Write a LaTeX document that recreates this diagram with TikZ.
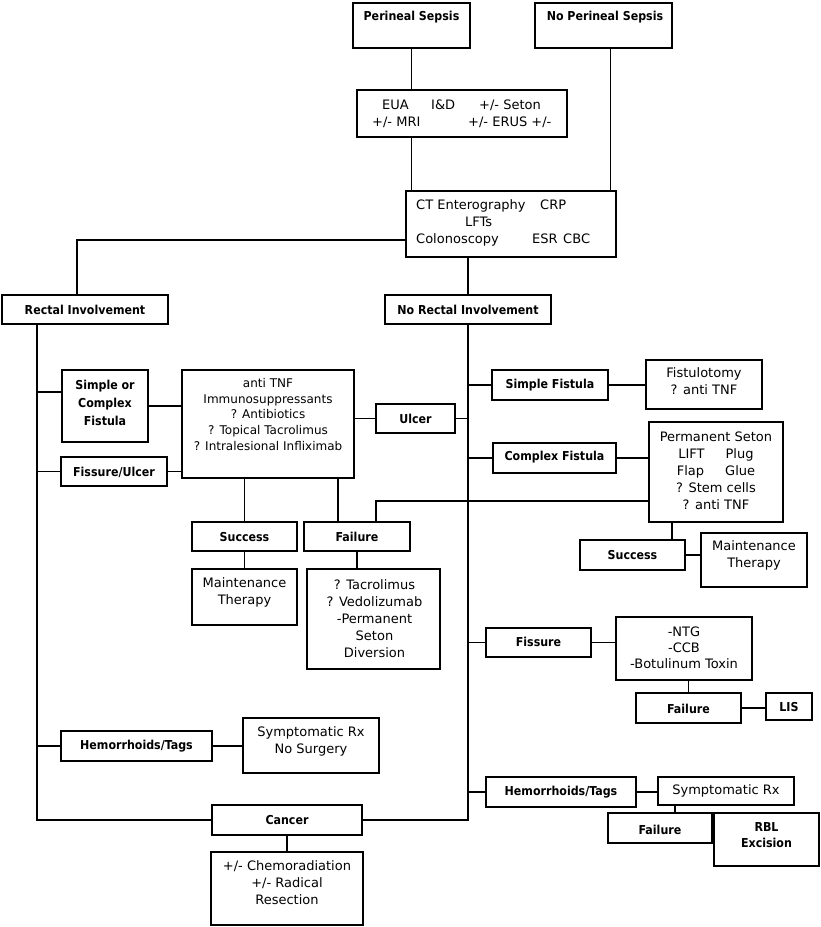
\documentclass[tikz,border=0pt]{standalone}
\usepackage{fontspec}
\setmainfont{DejaVu Sans}
\newfontfamily\headfont{DejaVu Sans Condensed Bold}
\usetikzlibrary{fit}

\begin{document}
\begin{tikzpicture}[x=1pt, y=-1pt]
                \tikzset{Box/.style = {draw, line width=1.3pt, inner sep=0pt},
                         Head/.style = {font=\headfont\fontsize{12.3}{18}\selectfont, align=center},
                         Text/.style = {font=\fontsize{13}{17}\selectfont, align=center},
                         Small/.style = {font=\fontsize{12}{15.8}\selectfont, align=center},
                         Line/.style = {line width=1.3pt}}
                \useasboundingbox (0,0) rectangle (820,927);

                \node[Box, fit={(353,3) (470,48)}] (PS) {};
                \node[Head] (PSt) at (411.5,17) {Perineal Sepsis};
                \node[Box, fit={(535,3) (672,48)}] (NPS) {};
                \node[Head] (NPSt) at (605,17) {No Perineal Sepsis};
                \node[Box, fit={(357,90) (567,137)}] (EUA) {};
                \node[Text, align=left, anchor=west, inner sep=0pt] (EUAt) at (372,113.5)
                        {\hspace*{10pt}\makebox[49pt][l]{EUA}\makebox[48pt][l]{I\&D}+/- Seton\\\makebox[96pt][l]{+/- MRI}+/- ERUS +/-};
                \node[Box, fit={(406,191) (616,257)}] (CT) {};
                \node[Text, align=left, anchor=west, inner sep=0pt] (CTt) at (416,223)
                        {\makebox[124pt][l]{CT Enterography}CRP\\\hspace*{49pt}LFTs\\\makebox[116pt][l]{Colonoscopy}\makebox[31pt][l]{ESR}CBC};
                \node[Box, fit={(2,295) (168,324)}] (RI) {};
                \node[Head] (RIt) at (85,310) {Rectal Involvement};
                \node[Box, fit={(385,295) (551,324)}] (NRI) {};
                \node[Head] (NRIt) at (468,310) {No Rectal Involvement};

                \node[Box, fit={(62,370) (148,442)}] (SCF) {};
                \node[Head] (SCFt) at (105,403) {Simple or\\Complex\\Fistula};
                \node[Box, fit={(182,370) (354,478)}] (ATNF) {};
                \node[Small] (ATNFt) at (268,414.5) {anti TNF\\Immunosuppressants\\? Antibiotics\\? Topical Tacrolimus\\? Intralesional Infliximab};
                \node[Box, fit={(61,457) (167,486)}] (FU) {};
                \node[Head] (FUt) at (114,472) {Fissure/Ulcer};
                \node[Box, fit={(376,404) (455,433)}] (ULC) {};
                \node[Head] (ULCt) at (415.5,419) {Ulcer};
                \node[Box, fit={(192,522) (297,551)}] (SUC1) {};
                \node[Head] (SUC1t) at (244.5,537) {Success};
                \node[Box, fit={(304,522) (410,551)}] (FAIL1) {};
                \node[Head] (FAIL1t) at (357,537) {Failure};
                \node[Box, fit={(192,569) (297,625)}] (MT1) {};
                \node[Text] (MT1t) at (244.5,592.5) {Maintenance\\Therapy};
                \node[Box, fit={(307,569) (440,669)}] (TAC) {};
                \node[Text] (TACt) at (374.5,618.5) {? Tacrolimus\\? Vedolizumab\\-Permanent\\Seton\\Diversion};
                \node[Box, fit={(61,731) (212,761)}] (HEM1) {};
                \node[Head] (HEM1t) at (136.5,746) {Hemorrhoids/Tags};
                \node[Box, fit={(243,718) (379,773)}] (SYM1) {};
                \node[Text] (SYM1t) at (311,741.5) {Symptomatic Rx\\No Surgery};
                \node[Box, fit={(212,805) (362,835)}] (CAN) {};
                \node[Head] (CANt) at (287,820) {Cancer};
                \node[Box, fit={(211,852) (363,925)}] (CHEMO) {};
                \node[Text] (CHEMOt) at (287,882.5) {+/- Chemoradiation\\+/- Radical\\Resection};

                \node[Box, fit={(492,370) (608,400)}] (SF) {};
                \node[Head] (SFt) at (550,385) {Simple Fistula};
                \node[Box, fit={(646,360) (762,409)}] (FIST) {};
                \node[Text] (FISTt) at (704,381.5) {Fistulotomy\\? anti TNF};
                \node[Box, fit={(493,443) (616,473)}] (CF) {};
                \node[Head] (CFt) at (554.5,457) {Complex Fistula};
                \node[Box, fit={(649,422) (783,522)}] (SETON) {};
                \node[Text] (SETONt) at (716,470.5) {Permanent Seton\\LIFT\hspace{21pt}Plug\\Flap\hspace{21pt}Glue\\? Stem cells\\? anti TNF};
                \node[Box, fit={(580,540) (685,570)}] (SUC2) {};
                \node[Head] (SUC2t) at (632.5,555) {Success};
                \node[Box, fit={(701,533) (807,587)}] (MT2) {};
                \node[Text] (MT2t) at (754,555.5) {Maintenance\\Therapy};
                \node[Box, fit={(486,628) (591,657)}] (FIS) {};
                \node[Head] (FISt) at (538.5,642) {Fissure};
                \node[Box, fit={(616,617) (752,680)}] (NTG) {};
                \node[Text, font=\fontsize{13}{16}\selectfont] (NTGt) at (684,648) {-NTG\\-CCB\\-Botulinum Toxin};
                \node[Box, fit={(636,693) (741,723)}] (FAIL2) {};
                \node[Head] (FAIL2t) at (688.5,709) {Failure};
                \node[Box, fit={(766,693) (812,720)}] (LIS) {};
                \node[Head] (LISt) at (789,707) {LIS};
                \node[Box, fit={(486,777) (636,807)}] (HEM2) {};
                \node[Head] (HEM2t) at (561,792) {Hemorrhoids/Tags};
                \node[Box, fit={(658,777) (794,805)}] (SYM2) {};
                \node[Text] (SYM2t) at (726,791) {Symptomatic Rx};
                \node[Box, fit={(608,813) (712,843)}] (FAIL3) {};
                \node[Head] (FAIL3t) at (660,830) {Failure};
                \node[Box, fit={(714,813) (819,866)}] (RBL) {};
                \node[Head, font=\headfont\fontsize{12.3}{16}\selectfont] (RBLt) at (766.5,835) {RBL\\Excision};

                \coordinate (RT) at ([xshift=-48pt]RI.south);
                \draw[Line] (PS.south) -- (PS.south |- EUA.north);
                \draw[Line] (PS.south |- EUA.south) -- (PS.south |- CT.north);
                \draw[Line] ([xshift=7pt]NPS.south) -- ([xshift=7pt]NPS.south |- CT.north);
                \draw[Line] ([yshift=-16pt]CT.west) -| ([xshift=-8pt]RI.north);
                \draw[Line] (NRI.north |- CT.south) -- (NRI.north);
                \draw[Line] (RT) |- (CAN.west);
                \draw[Line] ([yshift=14pt]SCF.west) -- ([yshift=14pt]SCF.west -| RT);
                \draw[Line] (FU.west) -- (FU.west -| RT);
                \draw[Line] (HEM1.west) -- (HEM1.west -| RT);
                \draw[Line] (SCF.east) -- (SCF.east -| ATNF.west);
                \draw[Line] (FU.east) -- (FU.east -| ATNF.west);
                \draw[Line] (ULC.west -| ATNF.east) -- (ULC.west);
                \draw[Line] (ULC.east) -- (ULC.east -| NRI.south);
                \draw[Line] (SUC1.north |- ATNF.south) -- (SUC1.north);
                \draw[Line] ([xshift=-19pt]FAIL1.north |- ATNF.south) -- ([xshift=-19pt]FAIL1.north);
                \draw[Line] (SUC1.south) -- (MT1.north);
                \draw[Line] (FAIL1.south) -- (FAIL1.south |- TAC.north);
                \draw[Line] (HEM1.east) -- (HEM1.east -| SYM1.west);
                \draw[Line] (CAN.south) -- (CAN.south |- CHEMO.north);
                \draw[Line] (NRI.south) |- (CAN.east);
                \draw[Line] (SF.west -| NRI.south) -- (SF.west);
                \draw[Line] (CF.west -| NRI.south) -- (CF.west);
                \draw[Line] (FIS.west -| NRI.south) -- (FIS.west);
                \draw[Line] (HEM2.west -| NRI.south) -- (HEM2.west);
                \draw[Line] (SF.east) -- (SF.east -| FIST.west);
                \draw[Line] (CF.east) -- (CF.east -| SETON.west);
                \draw[Line] ([yshift=-29pt]SETON.west) -| ([xshift=19pt]FAIL1.north);
                \draw[Line] ([xshift=39.5pt]SUC2.north |- SETON.south) -- ([xshift=39.5pt]SUC2.north);
                \draw[Line] (SUC2.east) -- (SUC2.east -| MT2.west);
                \draw[Line] (FIS.east) -- (FIS.east -| NTG.west);
                \draw[Line] (FAIL2.north |- NTG.south) -- (FAIL2.north);
                \draw[Line] (FAIL2.east) -- (FAIL2.east -| LIS.west);
                \draw[Line] (HEM2.east) -- (HEM2.east -| SYM2.west);
                \draw[Line] ([xshift=15pt]FAIL3.north |- SYM2.south) -- ([xshift=15pt]FAIL3.north);
                \draw[Line] (FAIL3.east) -- (FAIL3.east -| RBL.west);

            \end{tikzpicture}
\end{document}
